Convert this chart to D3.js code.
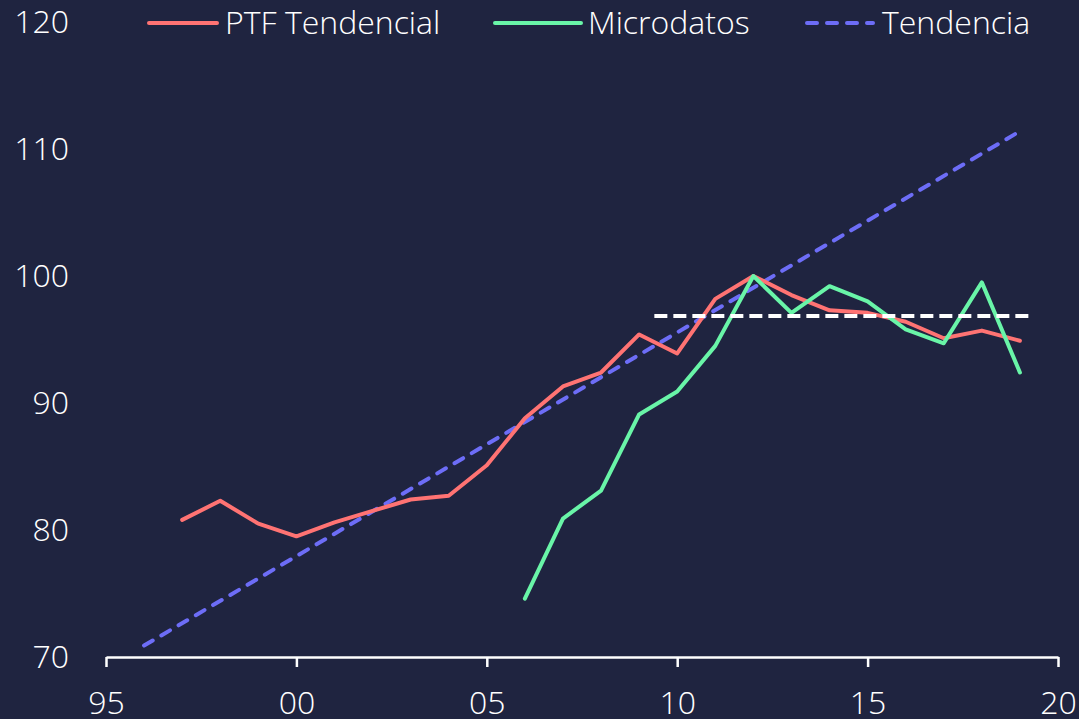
<!DOCTYPE html>
<html>
<head>
<meta charset="utf-8">
<script src="https://cdn.jsdelivr.net/npm/d3@7"></script>
<style>
  html, body { margin: 0; padding: 0; background: #1f2440; }
  svg text { font-family: "Open Sans", "Noto Sans", sans-serif; font-weight: 300; fill: #ffffff; }
</style>
</head>
<body>
<div id="chart"></div>
<script>
// Data.
var ptfYears = [1997, 1998, 1999, 2000, 2001, 2002, 2003, 2004, 2005, 2006, 2007, 2008,
  2009, 2010, 2011, 2012, 2013, 2014, 2015, 2016, 2017, 2018, 2019];
var ptfValues = [80.8, 82.3, 80.5, 79.5, 80.6, 81.5, 82.4, 82.7, 85.1, 88.8, 91.3, 92.4,
  95.4, 93.9, 98.2, 100.0, 98.5, 97.3, 97.1, 96.4, 95.1, 95.7, 94.9];

var microYears = [2006, 2007, 2008, 2009, 2010, 2011, 2012, 2013, 2014, 2015, 2016, 2017, 2018, 2019];
var microValues = [74.6, 80.9, 83.1, 89.1, 90.9, 94.5, 100.0, 97.1, 99.2, 98.0, 95.8, 94.7, 99.5, 92.4];

var trendYears = [1996, 2019];
var trendValues = [70.9, 111.4];

// white dashed reference level
var levelYears = [2009.4, 2019.3];
var levelValues = [96.85, 96.85];

var xTicks = [1995, 2000, 2005, 2010, 2015, 2020];
var yTicks = [70, 80, 90, 100, 110, 120];

var seriesNames = ["PTF Tendencial", "Microdatos", "Tendencia"];
var seriesColors = ["#ff7373", "#69f5a8", "#6d6df7"];

// Chart dimensions.
const width = 1079, height = 719;
const margin = { top: 22, right: 21, bottom: 62, left: 106 };

var x = d3.scaleLinear().domain([1995, 2020]).range([margin.left, width - margin.right]);
var y = d3.scaleLinear().domain([70, 120]).range([height - margin.bottom, margin.top]);

const svg = d3.select("#chart").append("svg")
  .attr("width", width)
  .attr("height", height);

svg.append("rect").attr("width", width).attr("height", height).attr("fill", "#1f2440");

// x axis
var xAxis = d3.axisBottom(x)
  .tickValues(xTicks)
  .tickSize(10)
  .tickSizeOuter(0)
  .tickFormat(function (d) { return String(d % 100).padStart(2, "0"); });

var gx = svg.append("g")
  .attr("transform", "translate(0," + y(70) + ")")
  .call(xAxis);
gx.select(".domain").attr("stroke", "#ffffff").attr("stroke-width", 2.5);
gx.selectAll(".tick line").attr("stroke", "#ffffff").attr("stroke-width", 2.5);
gx.selectAll(".tick text")
  .attr("font-size", 32)
  .attr("y", 57)
  .attr("dy", 0)
  .attr("fill", "#ffffff");

// y labels only, no axis line
svg.append("g").selectAll("text")
  .data(yTicks)
  .enter().append("text")
  .attr("x", 69)
  .attr("y", function (d) { return y(d); })
  .attr("dy", "0.35em")
  .attr("text-anchor", "end")
  .attr("font-size", 32)
  .text(function (d) { return d; });

function pairs(xs, ys) {
  return xs.map(function (d, i) { return [d, ys[i]]; });
}

var line = d3.line()
  .x(function (d) { return x(d[0]); })
  .y(function (d) { return y(d[1]); });

// trend (dashed blue)
svg.append("path")
  .datum(pairs(trendYears, trendValues))
  .attr("d", line)
  .attr("fill", "none")
  .attr("stroke", seriesColors[2])
  .attr("stroke-width", 4)
  .attr("stroke-linecap", "round")
  .attr("stroke-dasharray", "10,10");

// PTF Tendencial
svg.append("path")
  .datum(pairs(ptfYears, ptfValues))
  .attr("d", line)
  .attr("fill", "none")
  .attr("stroke", seriesColors[0])
  .attr("stroke-width", 4)
  .attr("stroke-linejoin", "round")
  .attr("stroke-linecap", "round");

// Microdatos
svg.append("path")
  .datum(pairs(microYears, microValues))
  .attr("d", line)
  .attr("fill", "none")
  .attr("stroke", seriesColors[1])
  .attr("stroke-width", 4)
  .attr("stroke-linejoin", "round")
  .attr("stroke-linecap", "round");

// white dashed level
svg.append("path")
  .datum(pairs(levelYears, levelValues))
  .attr("d", line)
  .attr("fill", "none")
  .attr("stroke", "#ffffff")
  .attr("stroke-width", 4)
  .attr("stroke-dasharray", "13,6");

// legend
var legendX = [149, 495, 807];
var legend = svg.append("g").selectAll("g")
  .data(seriesNames)
  .enter().append("g")
  .attr("transform", function (d, i) { return "translate(" + legendX[i] + ",23)"; });

legend.append("line")
  .attr("x1", 0)
  .attr("x2", function (d, i) { return i == 2 ? 66 : (i == 1 ? 86 : 68); })
  .attr("stroke", function (d, i) { return seriesColors[i]; })
  .attr("stroke-width", 4)
  .attr("stroke-linecap", "round")
  .attr("stroke-dasharray", function (d, i) { return i == 2 ? "10,10" : null; });

legend.append("text")
  .attr("x", function (d, i) { return i == 2 ? 75 : (i == 1 ? 93 : 76); })
  .attr("dy", "0.35em")
  .attr("font-size", 32)
  .text(function (d) { return d; });
</script>
</body>
</html>
